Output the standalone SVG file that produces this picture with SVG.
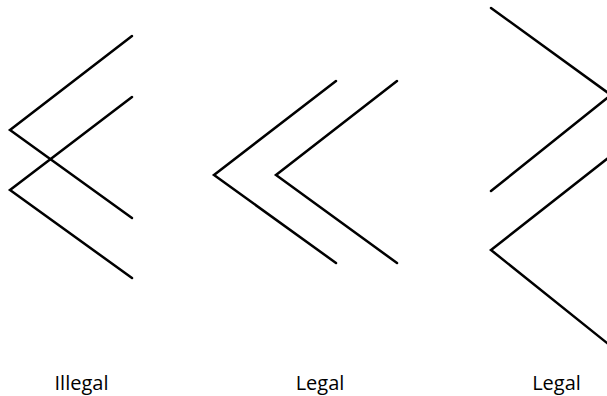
<svg xmlns="http://www.w3.org/2000/svg" width="607" height="396" viewBox="0 0 607 396">
  <style>
    .chev { fill: none; stroke: #000; stroke-width: 2.5; stroke-linejoin: miter; stroke-linecap: round; }
    .label { font-family: "Open Sans", "Liberation Sans", sans-serif; font-size: 20px; fill: #000; text-anchor: middle; }
  </style>
  <rect width="607" height="396" fill="#fff"/>
  <g id="connectors">
    <!-- crossing pair -->
    <g id="illegal-a"><polyline class="chev" points="132,36 10,130 132,218"/></g>
    <g id="illegal-b"><polyline class="chev" points="132,97 10,190 132,278"/></g>
    <!-- nested pair -->
    <g id="legal-a"><polyline class="chev" points="336,81 214,175 336,263"/></g>
    <g id="legal-b"><polyline class="chev" points="397,81 276,175 397,263"/></g>
    <!-- zigzag pair, running off the right edge -->
    <g id="legal-c"><polyline class="chev" points="491,8 611,95 491,191"/></g>
    <g id="legal-d"><polyline class="chev" points="612,155 491,250 612,347"/></g>
  </g>
  <g id="labels">
    <text class="label" x="81.5" y="390">Illegal</text>
    <text class="label" x="320" y="390">Legal</text>
    <text class="label" x="556.5" y="390">Legal</text>
  </g>
</svg>
